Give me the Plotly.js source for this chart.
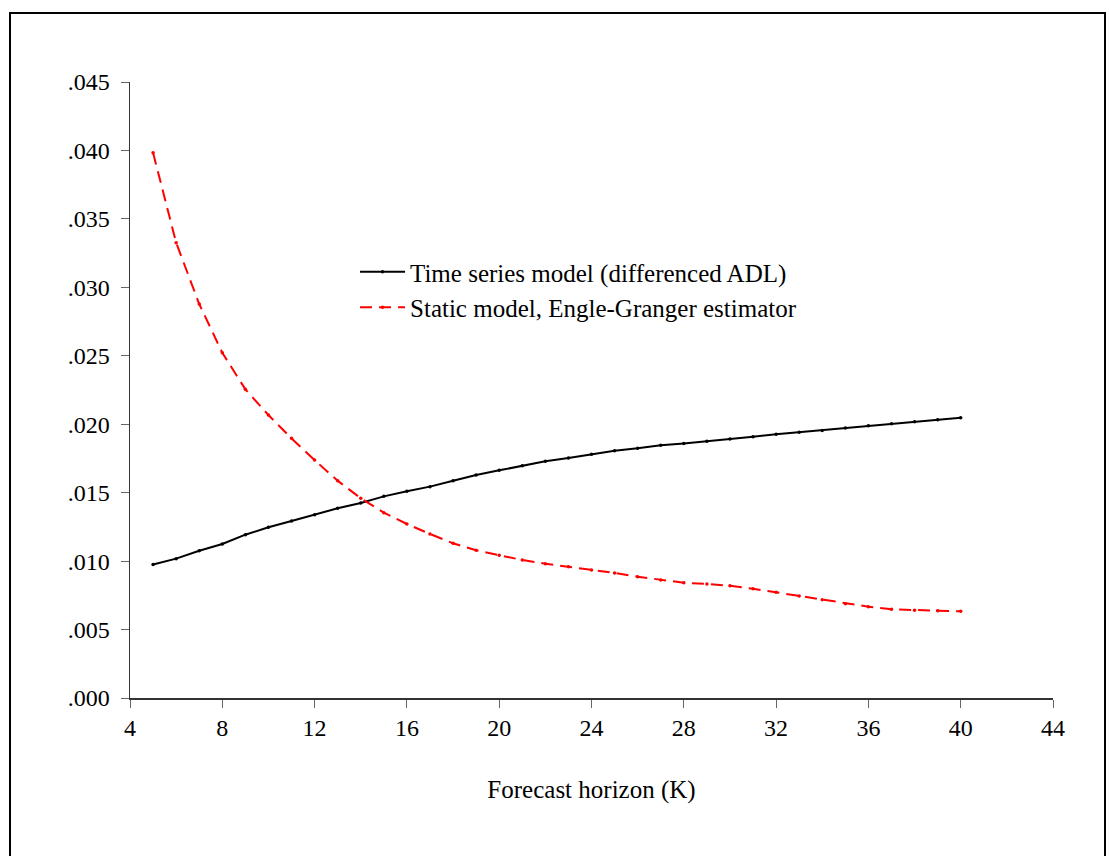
<!DOCTYPE html>
<html>
<head>
<meta charset="utf-8">
<script src="https://cdn.plot.ly/plotly-3.0.1.min.js"></script>
<style>
  html, body { margin: 0; padding: 0; background: #fff; }
  #chart { width: 1109px; height: 856px; position: relative; }
  #frame { position: absolute; left: 9px; top: 12px; width: 1097px; height: 860px;
           border: 2px solid #000; pointer-events: none; box-sizing: border-box; }
</style>
</head>
<body>
<div id="chart"></div>
<div id="frame"></div>
<script>
const horizon = [5,6,7,8,9,10,11,12,13,14,15,16,17,18,19,20,21,22,23,24,25,26,27,28,29,30,31,32,33,34,35,36,37,38,39,40];
const timeSeriesModel = [0.00975,0.01018,0.01076,0.01125,0.01193,0.01247,0.01293,0.01339,0.01386,0.01424,0.01473,0.01510,0.01544,0.01587,0.01629,0.01663,0.01697,0.01729,0.01753,0.01780,0.01806,0.01824,0.01846,0.01860,0.01875,0.01892,0.01909,0.01926,0.01941,0.01955,0.01972,0.01989,0.02004,0.02018,0.02033,0.02048];
const staticModel = [0.03983,0.03326,0.02878,0.02522,0.02255,0.02067,0.01897,0.01738,0.01587,0.01459,0.01354,0.01271,0.01198,0.01130,0.01079,0.01042,0.01008,0.00981,0.00959,0.00935,0.00913,0.00886,0.00862,0.00842,0.00833,0.00820,0.00798,0.00772,0.00745,0.00718,0.00689,0.00667,0.00648,0.00641,0.00638,0.00633];
const xTicks = [4,8,12,16,20,24,28,32,36,40,44];
const yTicks = [0,0.005,0.010,0.015,0.020,0.025,0.030,0.035,0.040,0.045];
const yTickText = [".000",".005",".010",".015",".020",".025",".030",".035",".040",".045"];
const seriesNames = ["Time series model (differenced ADL)", "Static model, Engle-Granger estimator"];

const traces = [
  { x: horizon, y: timeSeriesModel, name: seriesNames[0], type: 'scatter', mode: 'lines+markers',
    legendgroup: 'a',
    line: { color: '#000000', width: 2 }, marker: { color: '#000000', size: 3.5 } },
  { x: horizon, y: staticModel, name: seriesNames[1], type: 'scatter', mode: 'lines+markers',
    legendgroup: 'b',
    line: { color: '#ff0000', width: 2, dash: '12px,7px' }, marker: { color: '#ff0000', size: 3.5 } }
];

const family = '"Liberation Serif", "Times New Roman", serif';
const tickFont = { family: family, size: 24, color: '#000' };
const bigFont = { family: family, size: 25, color: '#000' };

const layout = {
  width: 1109, height: 856,
  margin: { l: 130, r: 56, t: 82, b: 158 },
  paper_bgcolor: '#fff', plot_bgcolor: '#fff',
  font: tickFont,
  showlegend: true,
  legend: { x: 0.2438, y: 0.663, xanchor: 'left', yanchor: 'middle', bgcolor: 'rgba(0,0,0,0)',
            font: bigFont, tracegroupgap: 0, itemwidth: 45 },
  xaxis: {
    range: [4, 44], tickvals: xTicks, ticktext: xTicks.map(String),
    showgrid: false, zeroline: false, showline: true, linecolor: '#333', linewidth: 1.5,
    ticks: 'outside', ticklen: 8, tickcolor: '#666', tickwidth: 1,
    tickfont: tickFont,
    title: { text: 'Forecast horizon (K)', font: bigFont, standoff: 40 }
  },
  yaxis: {
    range: [0, 0.045], tickvals: yTicks, ticktext: yTickText,
    showgrid: false, zeroline: false, showline: true, linecolor: '#333', linewidth: 1.5,
    ticks: 'outside', ticklen: 8, tickcolor: '#666', tickwidth: 1, ticklabelstandoff: 6,
    tickfont: tickFont
  }
};

Plotly.newPlot('chart', traces, layout, { displayModeBar: false, staticPlot: true });
</script>
</body>
</html>
